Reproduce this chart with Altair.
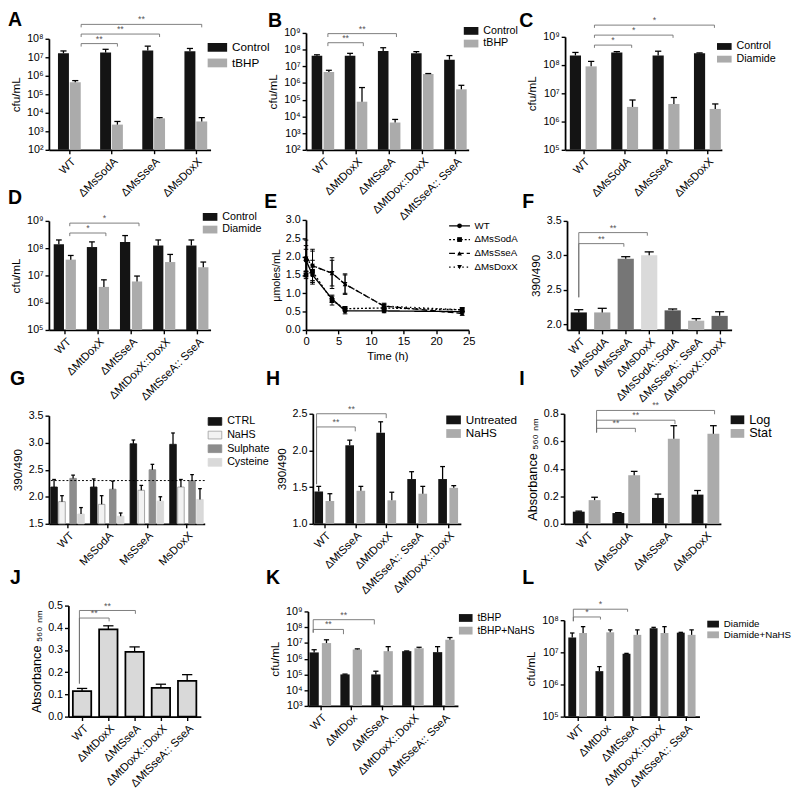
import json
import altair as alt
import pandas as pd

FONT = "Liberation Sans"
BLACK = "#141414"
GREY = "#ababab"
BRK = "#6e6e6e"
LOG_EXPR = "'10' + ['⁰','¹','²','³','⁴','⁵','⁶','⁷','⁸','⁹'][round(log(datum.value) / LN10)]"

# ---------------- data ----------------
# A
A_cats = ["WT", "ΔMsSodA", "ΔMsSseA", "ΔMsDoxX"]
A_series = ["Control", "tBHP"]
A_control = [1.65e7, 1.8e7, 2.3e7, 2.1e7]
A_control_sd = [0.55e7, 0.9e7, 1.7e7, 0.9e7]
A_tbhp = [4.5e5, 2.3e3, 5.0e3, 3.4e3]
A_tbhp_sd = [1.0e5, 1.1e3, 0.5e3, 2.1e3]
A_brackets = [(0, 1, 5.5e7, "**"), (0, 2, 1.8e8, "**"), (0, 3, 6.0e8, "**")]

# B
B_cats = ["WT", "ΔMtDoxX", "ΔMtSseA", "ΔMtDox::DoxX", "ΔMtSseA:: SseA"]
B_series = ["Control", "tBHP"]
B_control = [4.3e7, 4.3e7, 8.3e7, 6.0e7, 2.5e7]
B_control_sd = [0.6e7, 1.7e7, 4.7e7, 1.6e7, 1.9e7]
B_tbhp = [4.5e6, 7.6e4, 4.3e3, 3.5e6, 4.2e5]
B_tbhp_sd = [1.3e6, 4.6e5, 2.3e3, 0.2e6, 3.1e5]
B_brackets = [(0, 1, 2.6e8, "**"), (0, 2, 9.1e8, "**")]

# C
C_cats = ["WT", "ΔMsSodA", "ΔMsSseA", "ΔMsDoxX"]
C_series = ["Control", "Diamide"]
C_control = [2.2e8, 2.8e8, 2.2e8, 2.6e8]
C_control_sd = [0.6e8, 0.2e8, 0.9e8, 0.1e8]
C_diamide = [9.0e7, 3.3e6, 4.2e6, 2.8e6]
C_diamide_sd = [4.5e7, 2.5e6, 2.9e6, 1.4e6]
C_brackets = [(0, 1, 5.1e8, "*"), (0, 2, 1.15e9, "*"), (0, 3, 2.6e9, "*")]

# D
D_cats = ["WT", "ΔMtDoxX", "ΔMtSseA", "ΔMtDoxX::DoxX", "ΔMtSseA:: SseA"]
D_series = ["Control", "Diamide"]
D_control = [1.4e8, 1.1e8, 1.7e8, 1.25e8, 1.25e8]
D_control_sd = [0.6e8, 0.6e8, 1.2e8, 0.75e8, 0.75e8]
D_diamide = [3.8e7, 3.8e6, 6.0e6, 3.1e7, 2.0e7]
D_diamide_sd = [1.6e7, 3.1e6, 3.5e6, 2.8e7, 1.1e7]
D_brackets = [(0, 1, 3.6e8, "*"), (0, 2, 8.3e8, "*")]

# E
E_series = ["WT", "ΔMsSodA", "ΔMsSseA", "ΔMsDoxX"]
E_time = [0, 1, 4, 6, 12, 24]
E_wt = [1.9, 1.5, 0.85, 0.52, 0.52, 0.5]
E_wt_sd = [0.3, 0.25, 0.1, 0.08, 0.05, 0.04]
E_soda = [1.5, 1.6, 0.8, 0.58, 0.6, 0.55]
E_soda_sd = [0.1, 0.3, 0.12, 0.06, 0.08, 0.06]
E_ssea = [2.0, 1.75, 1.55, 1.25, 0.65, 0.45]
E_ssea_sd = [0.45, 0.45, 0.42, 0.28, 0.08, 0.05]
E_doxx = [1.95, 1.75, 1.55, 1.25, 0.65, 0.55]
E_doxx_sd = [0.35, 0.4, 0.35, 0.25, 0.06, 0.05]

# F
F_cats = ["WT", "ΔMsSodA", "ΔMsSseA", "ΔMsDoxX", "ΔMsSodA::SodA", "ΔMsSseA:: SseA", "ΔMsDoxX::DoxX"]
F_vals = [2.17, 2.17, 2.95, 3.0, 2.2, 2.05, 2.12]
F_sd = [0.04, 0.06, 0.03, 0.05, 0.02, 0.03, 0.06]
F_colors = ["#141414", "#a4a4a4", "#767676", "#dadada", "#575757", "#b4b4b4", "#666666"]
F_brackets = [(0, 2, 3.17, "**"), (0, 3, 3.33, "**")]

# G
G_cats = ["WT", "MsSodA", "MsSseA", "MsDoxX"]
G_series = ["CTRL", "NaHS", "Sulphate", "Cysteine"]
G_ctrl = [2.18, 2.18, 2.98, 2.97]
G_ctrl_sd = [0.14, 0.15, 0.07, 0.21]
G_nahs = [1.91, 1.86, 2.12, 2.18]
G_nahs_sd = [0.11, 0.16, 0.09, 0.14]
G_sulph = [2.34, 2.14, 2.5, 2.3]
G_sulph_sd = [0.06, 0.15, 0.1, 0.11]
G_cys = [1.68, 1.64, 1.92, 1.95]
G_cys_sd = [0.12, 0.06, 0.08, 0.2]
G_threshold = 2.3

# H
H_cats = ["WT", "ΔMtSseA", "ΔMtDoxX", "ΔMtSseA:: SseA", "ΔMtDoxX::DoxX"]
H_series = ["Untreated", "NaHS"]
H_untreated = [1.44, 2.07, 2.24, 1.61, 1.61]
H_untreated_sd = [0.07, 0.07, 0.15, 0.1, 0.17]
H_nahs = [1.31, 1.45, 1.32, 1.41, 1.49]
H_nahs_sd = [0.1, 0.06, 0.11, 0.1, 0.03]
H_brackets = [(0, 1, 2.32, "**"), (0, 2, 2.5, "**")]

# I
I_cats = ["WT", "ΔMsSodA", "ΔMsSseA", "ΔMsDoxX"]
I_series = ["Log", "Stat"]
I_log = [0.088, 0.078, 0.188, 0.212]
I_log_sd = [0.004, 0.003, 0.028, 0.03]
I_stat = [0.172, 0.353, 0.619, 0.654]
I_stat_sd = [0.021, 0.028, 0.094, 0.059]
I_brackets = [(0, 1, 0.694, "**"), (0, 2, 0.753, "**"), (0, 3, 0.824, "**")]

# J
J_cats = ["WT", "ΔMtDoxX", "ΔMtSseA", "ΔMtDoxX::DoxX", "ΔMtSseA:: SseA"]
J_vals = [0.115, 0.393, 0.292, 0.13, 0.161]
J_sd = [0.012, 0.016, 0.022, 0.016, 0.028]
J_brackets = [(0, 1, 0.444, "**"), (0, 2, 0.478, "**")]

# K
K_cats = ["WT", "ΔMtDox", "ΔMtSseA", "ΔMtDoxX::DoxX", "ΔMtSseA:: SseA"]
K_series = ["tBHP", "tBHP+NaHS"]
K_tbhp = [2.5e6, 1.0e5, 1.0e5, 3.0e6, 2.6e6]
K_tbhp_sd = [1.2e6, 0.05e5, 0.6e5, 0.1e6, 3.2e6]
K_nahs = [9.8e6, 3.8e6, 3.0e6, 4.6e6, 1.6e7]
K_nahs_sd = [6.0e6, 0.4e6, 2.8e6, 0.7e6, 0.6e7]
K_brackets = [(0, 1, 7.2e7, "**"), (0, 2, 3.0e8, "**")]

# L
L_cats = ["WT", "ΔMtDox", "ΔMtSseA", "ΔMtDoxX::DoxX", "ΔMtSseA:: SseA"]
L_series = ["Diamide", "Diamide+NaHS"]
L_diamide = [2.9e7, 2.6e6, 9.1e6, 5.6e7, 4.1e7]
L_diamide_sd = [1.1e7, 1.0e6, 0.2e6, 0.4e7, 0.1e7]
L_nahs = [4.0e7, 4.2e7, 3.5e7, 4.0e7, 3.5e7]
L_nahs_sd = [2.3e7, 0.8e7, 1.5e7, 2.3e7, 1.5e7]
L_brackets = [(0, 1, 1.26e8, "*"), (0, 2, 2.2e8, "*")]


# ---------------- helpers ----------------
def rect_path(w, h):
    r = h / w
    return f"M-1,-{r:.3f}H1V{r:.3f}H-1Z"


def make_legend(x, y, w, h, fs, pad, stroke=None):
    kw = dict(orient="none", legendX=x, legendY=y, title=None,
              symbolType=rect_path(w, h), symbolSize=w * w,
              labelFontSize=fs, labelFont=FONT, labelColor="black",
              rowPadding=pad, labelOffset=5, symbolOpacity=1)
    if stroke:
        kw.update(symbolStrokeColor=stroke, symbolStrokeWidth=0.8)
    else:
        kw.update(symbolStrokeWidth=0)
    return alt.Legend(**kw)


def letter_title(letter, dx=-42, off=6):
    return alt.TitleParams(letter, anchor="start", frame="group", orient="top",
                           fontSize=20, fontWeight="bold", font=FONT, color="black",
                           dx=dx, offset=off)


def bar_panel(letter, cats, series, values, sds, colors, offsets, bw, *,
              W, H, xdom, ydom, yticks, ytitle, log=False, fmt=".1f",
              xpad=0, tp=0, bp=0, leg=None, strokes=None, outline=None,
              cat_colors=None, brackets=(), br_off=(0.0, 0.0), br_tick=0.0,
              br_left=None, hline=None, ldx=-42, loff=6, tfs=12):
    rows = []
    for si, s in enumerate(series):
        for ci, c in enumerate(cats):
            v = values[si][ci]
            e = sds[si][ci]
            p = ci + offsets[si]
            rows.append(dict(series=s, cat=c, pos=p, x1=p - bw / 2, x2=p + bw / 2,
                             v=v, top=v + e, base=ydom[0],
                             c1=p - 0.28 * bw, c2=p + 0.28 * bw))
    df = pd.DataFrame(rows)

    xs = alt.Scale(domain=xdom, range=[xpad, W], nice=False, zero=False)
    ys = alt.Scale(type="log" if log else "linear", domain=ydom,
                   range=[H - bp, tp], nice=False, zero=False)
    xexpr = "%s[round(datum.value)]" % json.dumps(cats, ensure_ascii=False)
    xax = alt.Axis(values=list(range(len(cats))), labelExpr=xexpr, labelAngle=-45,
                   labelAlign="right", labelBaseline="top", labelFontSize=11.5,
                   labelFlush=False, labelOverlap=False, title=None, offset=-bp,
                   labelPadding=2)
    ykw = dict(values=yticks, title=ytitle, offset=-xpad, labelFlush=False,
               labelOverlap=False, titleFontSize=tfs)
    if log:
        ykw["labelExpr"] = LOG_EXPR
    else:
        ykw["format"] = fmt
    yax = alt.Axis(**ykw)

    def X(f):
        return alt.X(f, type="quantitative", scale=xs, axis=xax)

    def Y(f):
        return alt.Y(f, type="quantitative", scale=ys, axis=yax)

    if cat_colors:
        color = alt.Color("cat:N", scale=alt.Scale(domain=cats, range=cat_colors), legend=None)
    else:
        color = alt.Color("series:N", scale=alt.Scale(domain=series, range=colors),
                          legend=leg if leg is not None else None)
    enc = dict(x=X("x1"), x2=alt.X2("x2"), y=Y("v"), y2=alt.Y2("base"), color=color)
    if strokes:
        enc["stroke"] = alt.Stroke("series:N", scale=alt.Scale(domain=series, range=strokes),
                                   legend=None)
    mk = {}
    if outline:
        mk = dict(stroke=outline, strokeWidth=1.8)
    elif strokes:
        mk = dict(strokeWidth=0.9)
    layers = [alt.Chart(df).mark_bar(**mk).encode(**enc)]

    layers.append(alt.Chart(df).mark_rule(color="black", strokeWidth=1.3).encode(
        x=X("pos"), y=Y("v"), y2=alt.Y2("top")))
    layers.append(alt.Chart(df).mark_rule(color="black", strokeWidth=1.3).encode(
        x=X("c1"), x2=alt.X2("c2"), y=Y("top")))

    if hline is not None:
        layers.append(alt.Chart(pd.DataFrame({"t": [hline]})).mark_rule(
            color="black", strokeDash=[2, 2], strokeWidth=1).encode(y=Y("t")))

    if brackets:
        brow = []
        for (i, j, lev, lab) in brackets:
            x1 = i + br_off[0]
            x2 = j + br_off[1]
            low = lev / br_tick if log else lev - br_tick
            brow.append(dict(x1=x1, x2=x2, xm=(x1 + x2) / 2, y=lev,
                             yl=br_left if br_left is not None else low, yr=low, lab=lab))
        bdf = pd.DataFrame(brow)
        rule = dict(color=BRK, strokeWidth=0.9)
        layers.append(alt.Chart(bdf).mark_rule(**rule).encode(x=X("x1"), x2=alt.X2("x2"), y=Y("y")))
        layers.append(alt.Chart(bdf).mark_rule(**rule).encode(x=X("x1"), y=Y("y"), y2=alt.Y2("yl")))
        layers.append(alt.Chart(bdf).mark_rule(**rule).encode(x=X("x2"), y=Y("y"), y2=alt.Y2("yr")))
        layers.append(alt.Chart(bdf).mark_text(font=FONT, fontSize=9, color="#555555",
                                               baseline="bottom", dy=0).encode(
            x=X("xm"), y=Y("y"), text="lab:N"))

    return alt.layer(*layers).properties(width=W, height=H, title=letter_title(letter, ldx, loff))


def line_panel(letter, W, H, tp=0, ldx=-43, loff=6):
    sets = [(E_series[0], E_wt, E_wt_sd), (E_series[1], E_soda, E_soda_sd),
            (E_series[2], E_ssea, E_ssea_sd), (E_series[3], E_doxx, E_doxx_sd)]
    rows = []
    for s, vals, sds in sets:
        for t, v, e in zip(E_time, vals, sds):
            rows.append(dict(series=s, dash=s, t=t, v=v, lo=v - e, hi=v + e,
                             c1=t - 0.35, c2=t + 0.35))
    df = pd.DataFrame(rows)
    # key (legend) entries laid out in the panel's own data units, top-right
    key = pd.DataFrame(dict(series=E_series, dash=E_series,
                            ky=[2.84 - 0.375 * i for i in range(len(E_series))],
                            k1=[22.0] * 4, k2=[25.2] * 4, km=[23.6] * 4, kt=[25.9] * 4))
    xs = alt.Scale(domain=[0, 25], range=[0, W], nice=False, zero=False)
    ys = alt.Scale(domain=[0, 3], range=[H, tp], nice=False, zero=False)
    xax = alt.Axis(values=[0, 5, 10, 15, 20, 25], format="d", labelAngle=0, title="Time (h)",
                   labelFlush=False, labelOverlap=False, titleFontSize=11.5, labelFontSize=11.5)
    yax = alt.Axis(values=[0, 0.5, 1.0, 1.5, 2.0, 2.5, 3.0], format=".1f", title="μmoles/mL",
                   labelFlush=False, labelOverlap=False, titleFontSize=11)

    def X(f):
        return alt.X(f, type="quantitative", scale=xs, axis=xax)

    def Y(f):
        return alt.Y(f, type="quantitative", scale=ys, axis=yax)

    dash = alt.StrokeDash("dash:N", scale=alt.Scale(domain=E_series,
                          range=[[1, 0], [2, 2], [6, 3], [1.5, 3]]), legend=None)
    shape = alt.Shape("series:N", scale=alt.Scale(domain=E_series,
                      range=["circle", "square", "triangle-up", "triangle-down"]), legend=None)
    layers = [
        alt.Chart(df).mark_line(color="black", strokeWidth=1.4).encode(
            x=X("t"), y=Y("v"), strokeDash=dash, detail="dash:N"),
        alt.Chart(df).mark_rule(color="black", strokeWidth=1).encode(
            x=X("t"), y=Y("lo"), y2=alt.Y2("hi")),
        alt.Chart(df).mark_rule(color="black", strokeWidth=1).encode(
            x=X("c1"), x2=alt.X2("c2"), y=Y("lo")),
        alt.Chart(df).mark_rule(color="black", strokeWidth=1).encode(
            x=X("c1"), x2=alt.X2("c2"), y=Y("hi")),
        alt.Chart(df).mark_point(filled=True, size=24, color="black", opacity=1).encode(
            x=X("t"), y=Y("v"), shape=shape),
        alt.Chart(key).mark_rule(color="black", strokeWidth=1.3).encode(
            x=X("k1"), x2=alt.X2("k2"), y=Y("ky"), strokeDash=dash),
        alt.Chart(key).mark_point(filled=True, size=24, color="black", opacity=1).encode(
            x=X("km"), y=Y("ky"), shape=shape),
        alt.Chart(key).mark_text(font=FONT, fontSize=10, color="black", align="left",
                                 baseline="middle").encode(
            x=X("kt"), y=Y("ky"), text="series:N"),
    ]
    return alt.layer(*layers).properties(width=W, height=H, title=letter_title(letter, ldx, loff))


LOG_TICKS = [10.0 ** k for k in range(0, 10)]

# ---------------- panels ----------------
pA = bar_panel("A", A_cats, A_series, [A_control, A_tbhp], [A_control_sd, A_tbhp_sd],
               [BLACK, GREY], [-0.14, 0.14], 0.26,
               W=166, H=120, xdom=[-0.485, 3.35], ydom=[1e2, 1e8],
               yticks=[t for t in LOG_TICKS if 1e2 <= t <= 1e8], ytitle="cfu/mL", log=True,
               tp=6, leg=make_legend(163, 4.8, 20, 9, 12, -1),
               brackets=A_brackets, br_off=(0.28, 0.14), br_tick=1.45, loff=-14.5)

pB = bar_panel("B", B_cats, B_series, [B_control, B_tbhp], [B_control_sd, B_tbhp_sd],
               [BLACK, GREY], [-0.18, 0.18], 0.32,
               W=167, H=120, xdom=[-0.51, 4.4], ydom=[1e2, 1e9],
               yticks=[t for t in LOG_TICKS if 1e2 <= t <= 1e9], ytitle="cfu/mL", log=True,
               tp=0, leg=make_legend(162, -9.6, 15, 8, 11, 0),
               brackets=B_brackets, br_off=(0.15, 0.22), br_tick=1.6, ldx=-39, loff=-7.5)

pC = bar_panel("C", C_cats, C_series, [C_control, C_diamide], [C_control_sd, C_diamide_sd],
               [BLACK, GREY], [-0.19, 0.19], 0.27,
               W=162, H=120, xdom=[-0.44, 3.35], ydom=[1e5, 1e9],
               yticks=[t for t in LOG_TICKS if 1e5 <= t <= 1e9], ytitle="cfu/mL", log=True,
               xpad=1, tp=4, leg=make_legend(157, 6.4, 15, 7, 11, 0),
               brackets=C_brackets, br_off=(0.27, 0.17), br_tick=1.25, ldx=-46, loff=-14.5)

pD = bar_panel("D", D_cats, D_series, [D_control, D_diamide], [D_control_sd, D_diamide_sd],
               [BLACK, GREY], [-0.18, 0.18], 0.31,
               W=166, H=113, xdom=[-0.48, 4.4], ydom=[1e5, 1e9],
               yticks=[t for t in LOG_TICKS if 1e5 <= t <= 1e9], ytitle="cfu/mL", log=True,
               tp=1, leg=make_legend(158, -10.6, 15, 8, 11, 0),
               brackets=D_brackets, br_off=(0.15, 0.24), br_tick=1.3, loff=2)

pE = line_panel("E", W=167, H=113, loff=2)

pF = bar_panel("F", F_cats, ["F"], [F_vals], [F_sd], ["#000"], [0.0], 0.69,
               W=172, H=113, xdom=[-0.5, 6.51], ydom=[1.915, 3.5],
               yticks=[2.0, 2.5, 3.0, 3.5], ytitle="390/490", xpad=3, tp=1,
               cat_colors=F_colors, brackets=F_brackets, br_off=(0.0, -0.08),
               br_tick=0.045, br_left=2.39, ldx=-43, loff=3)

pG = bar_panel("G", G_cats, G_series, [G_ctrl, G_nahs, G_sulph, G_cys],
               [G_ctrl_sd, G_nahs_sd, G_sulph_sd, G_cys_sd],
               [BLACK, "#f2f2f2", "#8c8c8c", "#d9d9d9"], [-0.34, -0.14, 0.14, 0.34], 0.165,
               W=160, H=127, xdom=[-0.47, 3.46], ydom=[1.5, 3.5],
               yticks=[1.5, 2.0, 2.5, 3.0, 3.5], ytitle="390/490", tp=16,
               strokes=[BLACK, "#9a9a9a", "#8c8c8c", "#d9d9d9"],
               leg=make_legend(163, 14.4, 14, 8, 11, -1, stroke="#9a9a9a"),
               hline=G_threshold, ldx=-40, loff=11)

pH = bar_panel("H", H_cats, H_series, [H_untreated, H_nahs], [H_untreated_sd, H_nahs_sd],
               [BLACK, GREY], [-0.18, 0.18], 0.28,
               W=159, H=127, xdom=[-0.37, 4.41], ydom=[1.0, 2.5],
               yticks=[1.0, 1.5, 2.0, 2.5], ytitle="390/490", xpad=7, tp=14,
               leg=make_legend(144, 12.8, 15, 9, 12, -1),
               brackets=H_brackets, br_off=(-0.25, 0.0), br_tick=0.06, br_left=1.54,
               ldx=-41, loff=12)

pI = bar_panel("I", I_cats, I_series, [I_log, I_stat], [I_log_sd, I_stat_sd],
               [BLACK, GREY], [-0.2, 0.2], 0.3,
               W=161, H=127, xdom=[-0.57, 3.39], ydom=[0.0, 0.8],
               yticks=[0.0, 0.2, 0.4, 0.6, 0.8], ytitle="Absorbance ₅₆₀ ₙₘ", tp=14,
               leg=make_legend(171, 13.2, 14, 9, 13, -3),
               brackets=I_brackets, br_off=(0.25, 0.23), br_tick=0.028, br_left=0.664,
               ldx=-46, loff=12, tfs=13)

pJ = bar_panel("J", J_cats, ["J"], [J_vals], [J_sd], ["#d9d9d9"], [0.0], 0.7,
               W=156, H=126, xdom=[-0.52, 4.52], ydom=[0.0, 0.5],
               yticks=[0.0, 0.1, 0.2, 0.3, 0.4, 0.5], ytitle="Absorbance ₅₆₀ ₙₘ",
               xpad=20, tp=12, outline="black",
               brackets=J_brackets, br_off=(-0.1, 0.03), br_tick=0.015, br_left=0.149,
               ldx=-40, loff=6, tfs=13)

pK = bar_panel("K", K_cats, K_series, [K_tbhp, K_nahs], [K_tbhp_sd, K_nahs_sd],
               [BLACK, GREY], [-0.2, 0.2], 0.3,
               W=156, H=126, xdom=[-0.4, 4.46], ydom=[1e3, 1e9],
               yticks=[t for t in LOG_TICKS if 1e3 <= t <= 1e9], ytitle="cfu/mL", log=True,
               xpad=2, tp=18, bp=11, leg=make_legend(157, 17.7, 14, 8, 10.5, -2),
               brackets=K_brackets, br_off=(-0.23, -0.25), br_tick=2.0, br_left=4.5e7,
               ldx=-41, loff=6)

pL = bar_panel("L", L_cats, L_series, [L_diamide, L_nahs], [L_diamide_sd, L_nahs_sd],
               [BLACK, GREY], [-0.2, 0.2], 0.29,
               W=139, H=126, xdom=[-0.5, 4.49], ydom=[1e5, 1e8],
               yticks=[t for t in LOG_TICKS if 1e5 <= t <= 1e8], ytitle="cfu/mL", log=True,
               tp=27, leg=make_legend(147, 25, 12, 7, 10, -0.5),
               brackets=L_brackets, br_off=(-0.16, -0.16), br_tick=1.2, br_left=9.3e7,
               ldx=-43, loff=6)

chart = alt.concat(pA, pB, pC, pD, pE, pF, pG, pH, pI, pJ, pK, pL,
                   columns=3, spacing={"row": 72, "column": 98},
                   bounds="flush", align="none")
chart = chart.resolve_scale(color="independent", stroke="independent",
                            shape="independent", strokeDash="independent")
chart = chart.resolve_legend(color="independent")
chart = chart.properties(padding={"left": 0, "top": -9, "right": 0, "bottom": 0})
chart = (chart.configure_view(stroke=None)
         .configure_axis(domainColor="black", domainWidth=1.8, tickColor="black",
                         tickWidth=1.4, tickSize=4, grid=False, labelFont=FONT,
                         titleFont=FONT, labelColor="black", titleColor="black",
                         labelFontSize=11, titleFontSize=12, titleFontWeight="normal",
                         titlePadding=4)
         .configure_legend(labelFont=FONT, labelColor="black")
         .configure_title(font=FONT, color="black"))

chart.save("out.html", embed_options={"renderer": "svg", "actions": False})
